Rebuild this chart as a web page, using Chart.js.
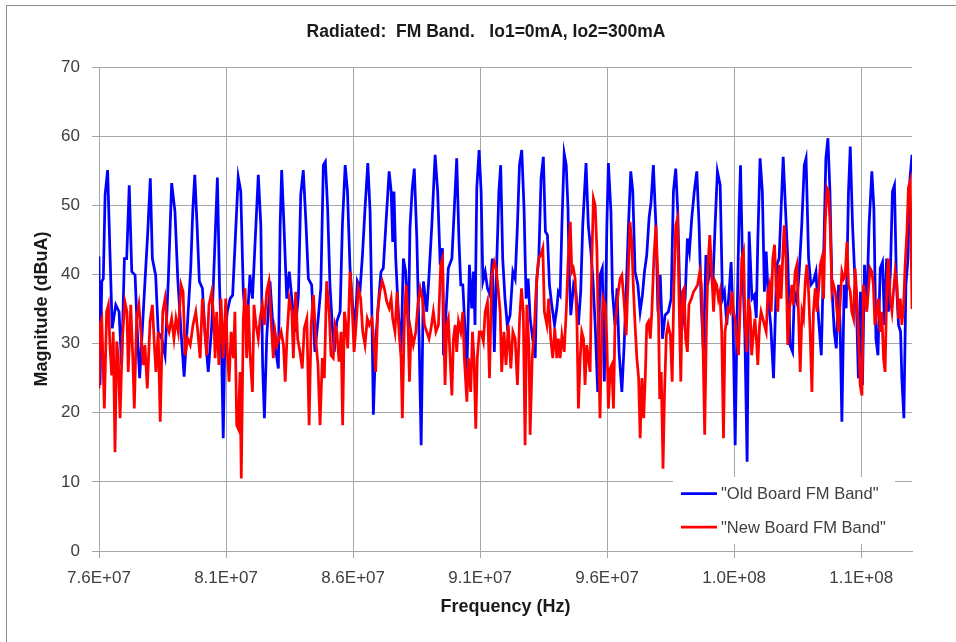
<!DOCTYPE html>
<html>
<head>
<meta charset="utf-8">
<script src="https://cdn.jsdelivr.net/npm/chart.js@4.4.1/dist/chart.umd.min.js"></script>
<style>
  html, body { margin: 0; padding: 0; background: #fff; overflow: hidden; }
  #wrap { position: relative; width: 956px; height: 642px; overflow: hidden; }
  #frame { position: absolute; left: 6px; top: 5px; width: 980px; height: 680px; border: 1px solid #8c8c8c; box-sizing: border-box; }
  canvas { position: absolute; left: 0; top: 0; }
</style>
</head>
<body>
<div id="wrap">
  <div id="frame"></div>
  <canvas id="chart" width="956" height="642"></canvas>
</div>
<script>
// frequencies in MHz, magnitudes in dBuA
const oldFreq = [
  76.00,76.04,76.11,76.17,76.24,76.34,76.43,76.52,76.66,76.79,
  76.89,77.00,77.09,77.19,77.29,77.42,77.52,77.60,77.70,77.81,
  77.92,78.02,78.10,78.23,78.33,78.47,78.60,78.73,78.86,78.99,
  79.10,79.23,79.35,79.48,79.61,79.69,79.77,79.86,79.95,80.07,
  80.17,80.30,80.44,80.54,80.66,80.74,80.83,80.89,80.96,81.05,
  81.16,81.26,81.39,81.48,81.58,81.68,81.79,81.88,81.94,82.04,
  82.14,82.27,82.37,82.44,82.51,82.60,82.73,82.86,83.00,83.06,
  83.13,83.19,83.28,83.39,83.49,83.59,83.72,83.85,83.94,84.04,
  84.15,84.24,84.37,84.50,84.63,84.73,84.83,84.91,85.00,85.09,
  85.19,85.26,85.36,85.49,85.58,85.69,85.78,85.88,85.97,86.08,
  86.17,86.28,86.37,86.47,86.58,86.67,86.74,86.80,86.89,87.00,
  87.10,87.19,87.29,87.42,87.50,87.56,87.61,87.68,87.78,87.89,
  87.98,88.07,88.18,88.24,88.33,88.41,88.51,88.60,88.68,88.77,
  88.90,88.99,89.10,89.23,89.33,89.43,89.52,89.56,89.66,89.75,
  89.89,89.98,90.08,90.17,90.24,90.32,90.41,90.48,90.58,90.67,
  90.74,90.80,90.87,90.96,91.04,91.11,91.20,91.29,91.39,91.48,
  91.56,91.66,91.74,91.81,91.89,91.98,92.07,92.18,92.29,92.38,
  92.47,92.55,92.64,92.73,92.81,92.89,92.97,93.07,93.17,93.23,
  93.31,93.40,93.49,93.57,93.65,93.73,93.82,93.93,94.02,94.08,
  94.15,94.22,94.31,94.39,94.46,94.51,94.57,94.68,94.77,94.87,
  94.96,95.04,95.17,95.26,95.36,95.44,95.53,95.63,95.72,95.81,
  95.89,95.99,96.05,96.15,96.21,96.31,96.39,96.47,96.58,96.67,
  96.75,96.84,96.93,97.01,97.10,97.21,97.30,97.39,97.47,97.56,
  97.65,97.73,97.82,97.92,98.00,98.09,98.18,98.28,98.41,98.52,
  98.61,98.70,98.78,98.87,98.96,99.07,99.16,99.24,99.33,99.43,
  99.53,99.62,99.70,99.79,99.89,99.96,100.06,100.16,100.25,100.34,
  100.45,100.54,100.62,100.71,100.80,100.88,100.95,101.04,101.11,101.19,
  101.25,101.33,101.42,101.51,101.59,101.70,101.79,101.87,101.93,102.02,
  102.11,102.19,102.26,102.35,102.44,102.55,102.61,102.68,102.77,102.93,
  103.05,103.11,103.20,103.30,103.37,103.47,103.56,103.66,103.76,103.83,
  103.93,104.02,104.12,104.22,104.32,104.43,104.52,104.61,104.69,104.77,
  104.85,104.94,105.02,105.11,105.17,105.24,105.33,105.41,105.50,105.57,
  105.66,105.74,105.80,105.89,105.97,106.05,106.13,106.22,106.31,106.42,
  106.50,106.58,106.66,106.75,106.84,106.92,107.00,107.07,107.15,107.23,
  107.31,107.39,107.47,107.55,107.60,107.68,107.76,107.84,107.92,108.00
]
const oldMag = [
  42.6,24.0,39.0,39.4,51.5,55.1,43.3,32.2,35.6,34.6,
  26.9,42.3,42.3,52.9,40.4,39.9,30.7,25.0,31.7,39.0,
  46.2,53.9,42.3,39.9,31.7,30.7,28.3,39.4,53.2,49.1,
  39.4,31.7,25.2,32.7,40.9,49.1,54.4,47.1,39.0,38.0,
  31.7,25.9,32.7,42.3,54.0,39.0,27.9,16.3,31.7,34.6,
  36.5,37.0,47.1,54.1,52.0,37.5,32.2,36.0,39.9,36.5,
  44.3,54.4,47.1,26.9,19.2,30.7,39.0,31.7,27.9,26.4,
  47.1,55.1,47.1,36.5,40.4,36.5,31.7,37.0,51.5,55.1,
  47.1,39.4,38.5,28.8,33.7,38.0,55.8,56.3,49.5,38.5,
  32.2,28.8,33.2,34.6,47.1,55.8,52.0,40.9,36.0,32.2,
  39.0,38.0,42.8,49.5,56.1,49.1,34.6,19.7,30.3,36.0,
  40.4,40.9,47.1,54.9,52.0,44.7,52.0,42.3,34.6,28.8,
  42.3,40.4,32.2,46.7,52.5,55.3,45.2,30.7,15.3,39.0,
  34.6,39.9,47.1,57.3,52.0,41.4,43.8,28.3,34.6,40.9,
  42.3,49.1,56.8,44.7,38.5,38.5,31.7,25.9,41.4,35.1,
  40.4,32.7,52.5,58.0,52.0,39.0,40.4,38.0,37.0,42.3,
  28.8,42.3,52.0,55.8,42.3,36.5,32.7,34.1,40.4,39.4,
  47.1,55.8,58.0,49.5,36.5,39.4,33.7,30.7,27.9,39.4,
  42.3,53.9,57.0,46.2,45.7,38.5,35.6,32.7,35.1,37.5,
  37.0,47.1,57.5,55.8,49.5,39.9,34.1,38.5,37.5,32.7,
  37.5,47.1,56.1,47.1,43.3,39.4,32.7,23.0,39.9,40.9,
  24.5,47.1,56.1,49.1,37.5,32.7,38.0,28.8,23.0,29.8,
  37.5,47.1,54.9,52.0,40.4,38.5,34.6,37.0,40.4,42.8,
  48.1,50.5,55.8,47.1,34.6,39.9,30.7,34.1,34.6,36.5,
  52.0,55.3,49.1,35.6,32.7,36.5,45.2,43.3,48.1,52.0,
  54.9,47.1,36.0,28.8,42.8,38.5,41.4,38.5,47.1,54.9,
  52.9,36.5,37.5,32.7,37.5,41.8,34.6,15.3,32.7,48.1,
  55.8,41.4,31.7,12.9,46.2,36.5,37.0,33.7,44.7,56.8,
  52.0,37.5,43.3,36.0,32.7,25.0,32.7,41.4,42.3,57.0,
  47.1,42.3,29.8,28.8,37.5,36.0,40.4,47.1,55.8,56.8,
  42.3,38.5,39.0,40.4,33.7,28.3,42.3,56.8,59.7,52.0,
  38.0,31.7,29.3,38.5,32.7,18.7,38.5,35.1,52.0,58.5,
  47.1,40.4,37.5,25.0,37.5,24.0,41.4,35.1,47.1,54.9,
  49.5,30.7,28.3,40.9,41.8,32.7,42.3,34.6,40.4,52.0,
  52.9,38.5,32.7,31.7,25.0,19.2,38.5,42.3,53.9,57.3
]

const newFreq = [
  76.00,76.04,76.11,76.17,76.21,76.30,76.37,76.43,76.50,76.56,
  76.63,76.70,76.76,76.83,76.92,77.02,77.10,77.15,77.25,77.33,
  77.39,77.48,77.57,77.65,77.74,77.81,77.90,78.01,78.10,78.18,
  78.24,78.33,78.41,78.51,78.60,78.68,78.76,78.86,78.95,79.03,
  79.12,79.23,79.31,79.39,79.49,79.59,79.70,79.81,79.89,79.98,
  80.07,80.15,80.24,80.33,80.44,80.53,80.57,80.63,80.72,80.80,
  80.89,80.99,81.05,81.12,81.20,81.29,81.35,81.42,81.48,81.55,
  81.60,81.68,81.75,81.81,81.88,81.94,82.04,82.10,82.18,82.27,
  82.34,82.43,82.51,82.60,82.69,82.77,82.86,82.93,83.00,83.09,
  83.17,83.26,83.33,83.41,83.49,83.59,83.65,83.74,83.82,83.91,
  84.00,84.08,84.18,84.27,84.35,84.44,84.54,84.62,84.70,84.79,
  84.87,84.96,85.06,85.13,85.22,85.29,85.36,85.45,85.53,85.59,
  85.66,85.72,85.79,85.88,85.95,86.04,86.12,86.21,86.30,86.38,
  86.47,86.56,86.64,86.74,86.81,86.89,86.97,87.06,87.15,87.23,
  87.33,87.42,87.50,87.56,87.65,87.73,87.81,87.89,87.94,88.02,
  88.09,88.15,88.22,88.28,88.37,88.47,88.55,88.64,88.73,88.81,
  88.90,88.99,89.07,89.16,89.26,89.36,89.45,89.52,89.62,89.69,
  89.75,89.82,89.89,89.95,90.02,90.08,90.15,90.24,90.32,90.38,
  90.48,90.54,90.63,90.70,90.76,90.83,90.89,90.97,91.04,91.13,
  91.20,91.29,91.37,91.46,91.56,91.63,91.72,91.79,91.85,91.94,
  92.02,92.11,92.21,92.29,92.38,92.47,92.55,92.63,92.70,92.77,
  92.84,92.92,92.97,93.05,93.13,93.20,93.30,93.39,93.47,93.53,
  93.63,93.70,93.78,93.86,93.94,94.02,94.08,94.15,94.22,94.31,
  94.39,94.46,94.55,94.61,94.67,94.74,94.81,94.87,94.94,95.00,
  95.07,95.13,95.20,95.26,95.33,95.40,95.46,95.53,95.60,95.66,
  95.72,95.79,95.85,95.92,95.99,96.05,96.12,96.18,96.25,96.31,
  96.38,96.44,96.51,96.58,96.67,96.75,96.84,96.90,96.97,97.04,
  97.10,97.17,97.24,97.30,97.37,97.44,97.50,97.56,97.63,97.70,
  97.76,97.84,97.92,98.00,98.07,98.13,98.20,98.26,98.33,98.40,
  98.49,98.56,98.63,98.70,98.77,98.83,98.90,98.96,99.03,99.09,
  99.16,99.22,99.32,99.40,99.49,99.56,99.65,99.71,99.78,99.84,
  99.91,99.97,100.04,100.11,100.19,100.25,100.31,100.38,100.44,100.51,
  100.58,100.64,100.71,100.77,100.84,100.91,100.97,101.04,101.10,101.17,
  101.23,101.30,101.37,101.43,101.50,101.56,101.63,101.69,101.76,101.82,
  101.89,101.93,102.00,102.06,102.13,102.19,102.26,102.33,102.39,102.46,
  102.52,102.59,102.65,102.72,102.78,102.85,102.91,102.97,103.04,103.11,
  103.17,103.27,103.33,103.40,103.47,103.53,103.60,103.67,103.73,103.80,
  103.86,103.93,103.99,104.06,104.12,104.19,104.26,104.32,104.39,104.45,
  104.52,104.58,104.65,104.71,104.78,104.85,104.91,104.98,105.05,105.11,
  105.18,105.24,105.31,105.37,105.44,105.50,105.57,105.63,105.70,105.76,
  105.83,105.89,105.96,106.03,106.09,106.16,106.22,106.29,106.35,106.42,
  106.48,106.54,106.62,106.68,106.75,106.81,106.88,106.94,107.01,107.07,
  107.14,107.21,107.27,107.34,107.41,107.47,107.54,107.60,107.67,107.73,
  107.80,107.86,107.93,108.00
]
const newMag = [
  23.5,32.7,33.6,25.9,20.6,34.6,35.6,29.8,25.4,31.7,
  14.3,30.3,27.9,19.2,30.7,36.0,34.6,25.9,35.6,27.9,
  20.6,33.6,35.6,31.7,26.9,29.8,23.5,33.2,35.6,29.8,
  25.9,31.7,18.7,34.6,36.5,32.7,31.7,33.6,30.7,33.6,
  31.7,38.5,37.5,28.3,30.7,29.8,32.7,34.6,31.7,27.9,
  36.5,32.7,28.3,35.6,37.5,32.7,27.9,34.6,26.9,36.5,
  27.9,36.5,28.8,24.5,31.7,27.9,34.6,18.2,17.7,25.9,
  10.5,33.6,38.0,27.9,35.6,28.8,23.0,35.6,32.7,30.7,
  33.6,35.6,32.7,37.5,39.0,33.6,27.9,31.7,29.8,30.7,
  31.7,29.8,24.5,31.7,36.5,34.6,27.9,37.5,30.7,28.8,
  26.4,32.2,33.6,18.2,32.7,37.0,30.3,26.9,18.2,27.9,
  25.0,39.0,34.6,28.3,27.9,32.7,31.7,27.4,31.7,18.2,
  34.6,32.7,29.3,40.4,36.5,28.8,32.7,38.0,36.5,31.7,
  29.8,33.6,32.7,33.6,30.7,25.9,34.6,37.5,39.0,38.0,
  36.0,35.1,36.5,33.6,31.7,37.5,31.7,27.9,19.2,33.6,
  38.5,34.6,24.5,31.7,29.8,31.7,35.6,38.0,36.5,32.7,
  31.7,30.7,32.2,34.6,31.7,32.7,41.4,42.3,24.0,32.7,
  33.6,27.9,22.5,30.7,32.7,28.8,33.2,31.7,34.6,27.9,
  21.6,27.9,23.0,31.7,27.9,17.7,27.9,31.7,31.7,30.3,
  34.6,36.0,25.0,39.9,41.8,40.9,37.5,34.6,25.9,31.7,
  26.9,32.7,26.4,31.7,30.7,24.0,33.2,38.0,34.6,15.3,
  35.6,29.8,16.8,27.9,31.7,37.5,42.3,42.8,43.8,34.6,
  32.7,36.5,30.7,27.9,32.2,27.9,30.7,27.9,31.2,28.8,
  34.6,41.4,47.6,40.4,40.9,39.4,33.6,20.6,27.9,31.7,
  30.7,24.0,29.8,27.9,25.9,42.3,51.0,50.0,43.3,30.7,
  19.2,32.7,36.5,35.6,30.3,20.6,26.4,26.9,20.6,32.7,
  35.1,37.5,39.4,39.9,36.0,31.2,40.9,47.6,44.7,37.5,
  32.7,27.9,25.0,16.3,25.0,19.2,25.0,32.7,33.2,30.7,
  34.6,42.3,47.1,39.4,22.0,25.9,11.9,23.0,31.2,32.7,
  31.2,24.5,38.5,47.1,48.1,36.5,24.5,37.5,38.0,30.7,
  28.8,35.6,36.5,37.5,38.0,38.5,40.4,38.5,28.8,16.8,
  32.7,41.4,45.7,40.9,34.6,39.0,38.5,36.5,37.5,31.7,
  16.3,31.7,33.6,35.1,34.6,37.5,34.6,33.6,30.7,28.3,
  34.6,42.3,43.3,32.7,28.8,36.5,34.6,28.3,31.7,33.6,
  29.8,26.9,32.7,34.6,33.6,32.7,31.7,37.5,38.5,34.6,
  42.3,44.3,38.5,34.6,41.4,36.5,42.3,47.1,42.3,29.8,
  34.6,38.5,35.6,40.4,41.4,34.6,25.9,34.6,33.6,39.0,
  41.4,37.5,31.7,23.0,34.6,38.0,34.6,37.5,41.4,42.3,
  36.5,47.1,52.5,52.0,47.1,37.5,38.5,37.5,34.6,31.7,
  36.5,40.4,39.4,39.9,44.7,38.5,37.5,34.6,33.6,40.9,
  36.5,31.7,24.0,22.5,38.5,36.5,34.6,38.0,40.9,40.4,
  38.5,32.7,34.6,36.5,31.7,34.6,27.9,25.9,38.5,42.3,
  36.5,34.6,37.5,40.4,38.5,33.6,36.5,32.7,35.6,41.4,
  46.2,52.5,53.5,35.0
]

const xTicks = [76, 81, 86, 91, 96, 101, 106]   // MHz
const seriesNames = ['"Old Board FM Band"', '"New Board FM Band"']

const GRID = '#a6a6a6'
const TXT = '#404040'
const FONT = "'Liberation Sans', Arial, sans-serif"

function toPoints(freq, mag) { return freq.map((f, i) => ({ x: f * 1e6, y: mag[i] })) }

// 7.6E+07 style labels
function sci(v) {
  const e = Math.floor(Math.log10(v))
  const m = (v / Math.pow(10, e)).toFixed(1)
  return m + 'E+' + String(e).padStart(2, '0')
}

// Excel-style legend box sitting inside the plot, lower right
const insideLegend = {
  id: 'insideLegend',
  afterDatasetsDraw(chart) {
    const { ctx, chartArea: ca } = chart
    const bx = ca.right - 239, by = ca.bottom - 74
    ctx.save()
    ctx.fillStyle = '#fff'
    ctx.fillRect(bx, by, 222, 67)
    ctx.font = '16.5px ' + FONT
    ctx.textBaseline = 'middle'
    const rows = [0, 1]
    rows.forEach((i, r) => {
      const ds = chart.data.datasets[i]
      const y = by + 16.5 + r * 33.5
      ctx.strokeStyle = ds.borderColor
      ctx.lineWidth = 2.75
      ctx.beginPath(); ctx.moveTo(bx + 8, y); ctx.lineTo(bx + 44, y); ctx.stroke()
      ctx.fillStyle = TXT
      ctx.fillText(ds.label, bx + 48, y + 1)
    })
    ctx.restore()
  }
}

new Chart(document.getElementById('chart'), {
  type: 'line',
  data: {
    datasets: [
      { label: seriesNames[0], data: toPoints(oldFreq, oldMag), borderColor: '#0000ff', borderWidth: 2.75, pointRadius: 0, order: 1 },
      { label: seriesNames[1], data: toPoints(newFreq, newMag), borderColor: '#ff0000', borderWidth: 2.75, pointRadius: 0, order: 0 }
    ]
  },
  options: {
    responsive: false,
    animation: false,
    layout: { padding: { left: 16, right: 0, top: 0, bottom: 0 } },
    plugins: {
      legend: { display: false },
      tooltip: { enabled: false },
      title: {
        display: true,
        text: 'Radiated:  FM Band.   Io1=0mA, Io2=300mA',
        color: '#1a1a1a',
        font: { family: FONT, size: 17.5, weight: 'bold' },
        padding: { top: 21.5, bottom: 24.5 }
      }
    },
    scales: {
      x: {
        type: 'linear',
        position: 'bottom',
        min: 76e6,
        max: 108e6,
        afterBuildTicks: s => { s.ticks = xTicks.map(v => ({ value: v * 1e6 })) },
        afterFit: s => { s.height = 91 },
        ticks: { callback: v => sci(v), color: TXT, font: { family: FONT, size: 17 }, padding: 10, maxRotation: 0, autoSkip: false },
        grid: { color: GRID, lineWidth: 1, tickLength: 7 },
        border: { color: GRID, width: 1 },
        title: { display: true, text: 'Frequency (Hz)', color: '#1a1a1a', font: { family: FONT, size: 18, weight: 'bold' }, padding: { top: 0, bottom: 24 } }
      },
      y: {
        min: 0,
        max: 70,
        afterFit: s => { s.width = 83 },
        ticks: { stepSize: 10, color: TXT, font: { family: FONT, size: 17 }, padding: 12 },
        grid: { color: GRID, lineWidth: 1, tickLength: 7 },
        border: { color: GRID, width: 1 },
        title: { display: true, text: 'Magnitude (dBuA)', color: '#1a1a1a', font: { family: FONT, size: 18, weight: 'bold' }, padding: { top: 15, bottom: 0 } }
      },
      yr: {
        position: 'right',
        afterFit: s => { s.width = 44 },
        ticks: { display: false },
        grid: { display: false },
        border: { display: false }
      }
    }
  },
  plugins: [insideLegend]
})
</script>
</body>
</html>
